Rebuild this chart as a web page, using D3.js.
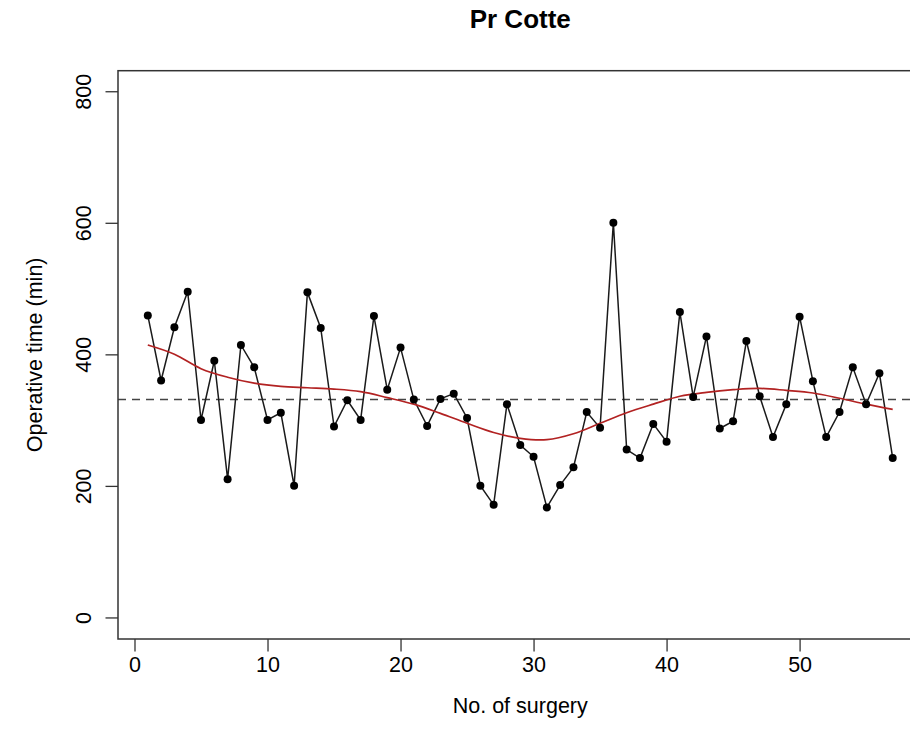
<!DOCTYPE html>
<html>
<head>
<meta charset="utf-8">
<script src="https://cdn.jsdelivr.net/npm/d3@7"></script>
<style>
  body { margin: 0; background: #fff; }
  svg { display: block; font-family: "Liberation Sans", Arial, sans-serif; }
  .axis path { display: none; }
  .axis line { stroke: #333; stroke-width: 1.3; }
  .axis text { font-size: 21.5px; fill: #000; }
</style>
</head>
<body>
<div id="chart"></div>
<script>
// Operative time (min) for each surgery, in order (surgery no. = index + 1)
var opTimes = [460, 361, 442, 496, 301, 391, 211, 415, 381, 301,
               312, 201, 495, 441, 291, 331, 301, 459, 347, 411,
               332, 292, 333, 341, 304, 201, 172, 325, 263, 245,
               168, 202, 229, 313, 289, 601, 256, 243, 295, 268,
               465, 336, 428, 288, 299, 421, 337, 275, 325, 458,
               360, 275, 313, 381, 325, 372, 243];

// smoothed trend (red curve)
var smoothX = [1, 3, 5, 7, 9, 11, 13, 15, 17, 19, 21, 23, 25, 27, 29,
               31, 33, 35, 37, 39, 41, 43, 45, 47, 49, 51, 53, 55, 57];
var smoothY = [415, 401, 379, 366, 357, 352, 350, 348, 344, 335, 325, 311, 296, 282, 273,
               271, 280, 296, 312, 325, 337, 343, 347, 349, 346, 342, 334, 325, 317];

var xTicks = [0, 10, 20, 30, 40, 50];
var yTicks = [0, 200, 400, 600, 800];

var W = 910, H = 741;
// plot box (right edge falls outside the picture, as in the original)
var box = {left: 118, right: 922.5, top: 70.7, bottom: 639};

var svg = d3.select("#chart").append("svg")
    .attr("width", W)
    .attr("height", H);

// Set the ranges
var x = d3.scaleLinear().domain([-1.24, 59.24]).range([box.left, box.right]);
var y = d3.scaleLinear().domain([-32, 832]).range([box.bottom, box.top]);

var data = opTimes.map(function(v, i) { return {n: i + 1, t: v}; });
var smooth = smoothX.map(function(v, i) { return {n: v, t: smoothY[i]}; });

// Add the X Axis
var xAxis = svg.append("g")
    .attr("class", "x axis")
    .attr("transform", "translate(0," + box.bottom + ")")
    .call(d3.axisBottom(x).tickValues(xTicks).tickSize(12.5).tickPadding(5));
xAxis.selectAll("text").attr("dy", "0.71em");

// Add the Y Axis
var yAxis = svg.append("g")
    .attr("class", "y axis")
    .attr("transform", "translate(" + box.left + ",0)")
    .call(d3.axisLeft(y).tickValues(yTicks).tickSize(12.5));
yAxis.selectAll("text")
    .attr("x", 0).attr("dy", 0)
    .attr("text-anchor", "middle")
    .attr("transform", function(d) { return "translate(-27," + y(d) + ") rotate(-90)"; });
yAxis.selectAll(".tick").attr("transform", null);
yAxis.selectAll(".tick line").attr("y1", function(d) { return y(d); }).attr("y2", function(d) { return y(d); });

// mean line
svg.append("line")
    .attr("x1", box.left).attr("x2", box.right)
    .attr("y1", y(d3.mean(opTimes))).attr("y2", y(d3.mean(opTimes)))
    .attr("stroke", "#444")
    .attr("stroke-width", 1.5)
    .attr("stroke-dasharray", "8,6");

// series line
var valueline = d3.line()
    .x(function(d) { return x(d.n); })
    .y(function(d) { return y(d.t); });

svg.append("path")
    .attr("d", valueline(data))
    .attr("fill", "none")
    .attr("stroke", "#1a1a1a")
    .attr("stroke-width", 1.5);

// red smoother
svg.append("path")
    .attr("d", valueline.curve(d3.curveCatmullRom)(smooth))
    .attr("fill", "none")
    .attr("stroke", "#b22222")
    .attr("stroke-width", 1.7);

svg.selectAll(".dot")
    .data(data)
    .enter().append("circle")
    .attr("class", "dot")
    .attr("cx", function(d) { return x(d.n); })
    .attr("cy", function(d) { return y(d.t); })
    .attr("r", 4)
    .attr("fill", "#000");

// frame
svg.append("rect")
    .attr("x", box.left).attr("y", box.top)
    .attr("width", box.right - box.left)
    .attr("height", box.bottom - box.top)
    .attr("fill", "none")
    .attr("stroke", "#333")
    .attr("stroke-width", 1.5);

// titles
var midX = (box.left + box.right) / 2;
svg.append("text")
    .attr("x", midX).attr("y", 28)
    .attr("text-anchor", "middle")
    .style("font-size", "26px")
    .style("font-weight", "bold")
    .text("Pr Cotte");

svg.append("text")
    .attr("x", midX).attr("y", 713)
    .attr("text-anchor", "middle")
    .style("font-size", "21.5px")
    .text("No. of surgery");

svg.append("text")
    .attr("transform", "translate(42," + ((box.top + box.bottom) / 2) + ") rotate(-90)")
    .attr("text-anchor", "middle")
    .style("font-size", "21.5px")
    .text("Operative time (min)");
</script>
</body>
</html>
